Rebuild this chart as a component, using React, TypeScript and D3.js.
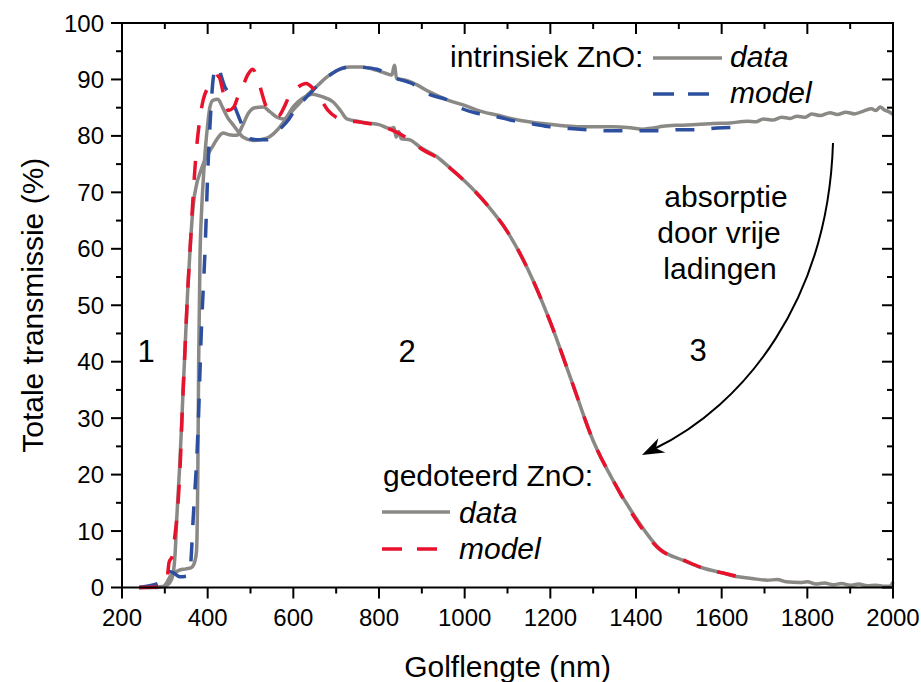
import React from "react";
import * as d3 from "d3";

type P = [number, number];

const xTicks = [200, 400, 600, 800, 1000, 1200, 1400, 1600, 1800, 2000];
const yTicks = [0, 10, 20, 30, 40, 50, 60, 70, 80, 90, 100];

const intrinsicData: P[] = [
  [240, 0], [265, 0.1], [296, 0.2], [305, 0.9], [312, 1.9], [322, 2.6], [335, 3.1], [350, 3.3], [363, 3.6],
  [370, 4.6], [374, 6.5], [377, 20], [379, 40], [382, 58], [386, 67], [390, 72.5], [395, 78], [400, 82],
  [405, 85], [412, 86.3], [424, 86.5], [435, 85], [447, 83.2], [459, 82], [470, 80.9], [482, 79.8],
  [506, 79.2], [538, 79.6], [562, 81], [578, 82.5], [592, 83.9], [612, 85.6], [632, 87.2], [655, 88.8],
  [678, 90.4], [700, 91.5], [732, 92.2], [760, 92.2], [795, 91.6], [815, 91.1], [830, 90.8], [836, 92.5],
  [841, 90.2], [860, 89.9], [879, 89.4], [920, 87.7], [959, 86.4], [1000, 85.4], [1036, 84.4], [1075, 83.7],
  [1113, 83], [1150, 82.5], [1192, 82.1], [1230, 81.8], [1269, 81.6], [1300, 81.6], [1346, 81.6],
  [1380, 81.5], [1417, 81.2], [1440, 81.4], [1463, 81.7], [1500, 81.9], [1542, 82], [1580, 82.2],
  [1620, 82.3], [1660, 82.6], [1680, 82.5], [1697, 83], [1720, 82.8], [1740, 83.3], [1760, 83.1],
  [1776, 83.5], [1795, 83.3], [1810, 83.9], [1830, 83.6], [1853, 84.1], [1870, 83.8], [1890, 84.2],
  [1910, 83.9], [1931, 84.4], [1950, 84.8], [1960, 84.5], [1970, 85.1], [1980, 84.6], [1990, 84.3], [2000, 83.8],
];

const intrinsicModel: P[] = [
  [240, 0], [265, 0.3], [290, 1], [300, 1.8], [308, 2.9], [320, 2.6], [335, 1.9], [350, 2], [358, 2.5],
  [362, 6], [366, 12], [370, 17], [374, 22], [378, 29], [385, 45], [394, 60], [401, 75], [407, 84],
  [412, 89.5], [418, 92], [425, 92.3], [432, 90.5], [440, 88.7], [448, 87.7], [464, 85], [480, 82],
  [499, 79.5], [520, 79.3], [538, 79.3], [555, 80.2], [570, 81.3], [590, 83], [605, 84.8], [620, 86],
  [645, 88], [665, 89.6], [680, 90.5], [715, 92], [740, 92.3], [755, 92.2], [795, 91.8], [833, 90.4],
  [879, 89.2], [919, 87.3], [959, 86.4], [989, 85], [1029, 84], [1075, 83.4], [1113, 82.7], [1160, 82.1],
  [1199, 81.6], [1246, 81.3], [1286, 81.1], [1333, 80.9], [1371, 80.9], [1417, 80.9], [1456, 80.9],
  [1503, 81.1], [1542, 81.1], [1589, 81.4], [1640, 81.5],
];

const dopedData: P[] = [
  [240, 0], [284, 0], [305, 0.4], [317, 1.7], [324, 6], [328, 12.5], [335, 22], [341, 32], [347, 42],
  [353, 52], [359, 60], [366, 67.5], [375, 71.7], [382, 73.4], [395, 76], [412, 78.2], [425, 79.8],
  [436, 80.5], [450, 80.2], [468, 80.1], [480, 81.6], [495, 84], [510, 85], [530, 85.1], [545, 84.3],
  [562, 83.3], [578, 83], [600, 85.2], [620, 86.6], [646, 87.4], [665, 87], [693, 86], [710, 84.5],
  [725, 83], [750, 82.6], [772, 82.3], [800, 82], [826, 81.3], [835, 81.5], [840, 79.8], [846, 80.8],
  [852, 79.5], [872, 79.3], [896, 78], [935, 76.3], [966, 74.3], [1000, 72], [1050, 68], [1100, 63],
  [1150, 56], [1200, 47], [1250, 36.5], [1300, 26], [1350, 18.5], [1400, 12.3], [1456, 6.8], [1510, 4.8],
  [1554, 3.5], [1601, 2.6], [1638, 1.9], [1670, 1.6], [1706, 1.3], [1730, 1.4], [1750, 1.0], [1783, 0.9],
  [1800, 1.0], [1820, 0.6], [1840, 0.8], [1860, 0.5], [1880, 0.7], [1900, 0.4], [1920, 0.6], [1940, 0.3],
  [1960, 0.4], [1980, 0.2], [1993, 0.2], [2000, 1.0],
];

const dopedModel: P[] = [
  [240, 0], [280, 0.1], [300, 0.8], [306, 2], [310, 4.5], [317, 5.5], [324, 9.5], [330, 14], [336, 22],
  [341, 32], [347, 42], [353, 52], [359, 60], [365, 68], [372, 76], [380, 82], [390, 86.5], [400, 88.5],
  [412, 90], [425, 90.6], [437, 87.5], [448, 84.5], [460, 85], [471, 87], [483, 89], [495, 91],
  [505, 91.8], [515, 90.5], [525, 88], [535, 85.5], [550, 84], [565, 83.5], [578, 85], [590, 87],
  [610, 88.6], [630, 89.3], [645, 88.5], [660, 87], [680, 84.6], [700, 83.3], [720, 82.8], [760, 82.4],
  [800, 81.8], [837, 80.8], [872, 79.3], [903, 77.5], [935, 76.2], [966, 74.3], [1000, 72], [1050, 68],
  [1100, 63], [1150, 56], [1200, 47], [1250, 36.5], [1300, 26], [1350, 18.5], [1400, 12], [1456, 6.7],
  [1510, 4.9], [1554, 3.5], [1601, 2.6], [1640, 1.9],
];

const GRAY = "#8b8986";
const BLUE = "#2d4f9f";
const RED = "#e8122d";
const FONT = "'Liberation Sans', Arial, sans-serif";

export default function App() {
  const W = 921, H = 682;
  const L = 122, R = 893, T = 23, B = 587.5;
  const x = d3.scaleLinear().domain([200, 2000]).range([L, R]);
  const y = d3.scaleLinear().domain([0, 100]).range([B, T]);
  const line = d3
    .line<P>()
    .x((d) => x(d[0]))
    .y((d) => y(d[1]))
    .curve(d3.curveMonotoneX);

  const xMinor = d3.range(200, 2001, 100);
  const yMinor = d3.range(0, 101, 5);
  const MAJ = 11, MIN = 6;
  const dash = "19 17";

  // arrow
  const p0: P = [833, 143];
  const p1: P = [828, 300];
  const p2: P = [745, 405];
  const p3: P = [642, 455];
  const arrowPath = d3.path();
  arrowPath.moveTo(p0[0], p0[1]);
  arrowPath.bezierCurveTo(p1[0], p1[1], p2[0], p2[1], p3[0] + 12, p3[1] - 6);
  const ang = Math.atan2(p3[1] - p2[1], p3[0] - p2[0]);
  const hl = 22, hw = 8;
  const bx = p3[0] - hl * Math.cos(ang), by = p3[1] - hl * Math.sin(ang);
  const nx = -Math.sin(ang), ny = Math.cos(ang);
  const notchX = p3[0] - hl * 0.7 * Math.cos(ang), notchY = p3[1] - hl * 0.7 * Math.sin(ang);
  const head = `M${p3[0]},${p3[1]} L${bx + nx * hw},${by + ny * hw} L${notchX},${notchY} L${bx - nx * hw},${by - ny * hw} Z`;

  return (
    <svg width={W} height={H} style={{ position: "absolute", left: 0, top: 0, background: "#fff" }} fontFamily={FONT}>
      <rect width={W} height={H} fill="#fff" />
      {/* curves */}
      <path d={line(intrinsicData) || ""} fill="none" stroke={GRAY} strokeWidth={3.5} strokeLinejoin="round" />
      <path d={line(dopedData) || ""} fill="none" stroke={GRAY} strokeWidth={3.5} strokeLinejoin="round" />
      <path d={line(intrinsicModel) || ""} fill="none" stroke={BLUE} strokeWidth={3.5} strokeDasharray={dash} />
      <path d={line(dopedModel) || ""} fill="none" stroke={RED} strokeWidth={3.5} strokeDasharray={dash} />

      {/* frame */}
      <rect x={L} y={T} width={R - L} height={B - T} fill="none" stroke="#000" strokeWidth={2} />
      {xMinor.map((v) => {
        const major = v % 200 === 0;
        const len = major ? MAJ : MIN;
        return (
          <g key={"x" + v}>
            <line x1={x(v)} x2={x(v)} y1={B} y2={B + len} stroke="#000" strokeWidth={2} />
            <line x1={x(v)} x2={x(v)} y1={T} y2={T + len} stroke="#000" strokeWidth={2} />
          </g>
        );
      })}
      {yMinor.map((v) => {
        const major = v % 10 === 0;
        const len = major ? MAJ : MIN;
        return (
          <g key={"y" + v}>
            <line x1={L - len} x2={L} y1={y(v)} y2={y(v)} stroke="#000" strokeWidth={2} />
            <line x1={R - len} x2={R} y1={y(v)} y2={y(v)} stroke="#000" strokeWidth={2} />
          </g>
        );
      })}
      {xTicks.map((v) => (
        <text key={"xt" + v} x={x(v)} y={626} textAnchor="middle" fontSize={24} fill="#000">
          {v}
        </text>
      ))}
      {yTicks.map((v) => (
        <text key={"yt" + v} x={104} y={y(v) + 8.5} textAnchor="end" fontSize={24} fill="#000">
          {v}
        </text>
      ))}
      <text x={(L + R) / 2} y={677} textAnchor="middle" fontSize={30} fill="#000">
        Golflengte (nm)
      </text>
      <text transform={`translate(43,${(T + B) / 2}) rotate(-90)`} textAnchor="middle" fontSize={30} fill="#000">
        Totale transmissie (%)
      </text>

      {/* region labels */}
      <text x={146} y={362} textAnchor="middle" fontSize={31} fill="#000">1</text>
      <text x={407} y={362} textAnchor="middle" fontSize={31} fill="#000">2</text>
      <text x={698} y={361} textAnchor="middle" fontSize={31} fill="#000">3</text>

      {/* annotation */}
      <g fontSize={30} fill="#000" textAnchor="middle">
        <text x={726} y={207}>absorptie</text>
        <text x={719} y={243}>door vrije</text>
        <text x={720} y={279}>ladingen</text>
      </g>
      <path d={arrowPath.toString()} fill="none" stroke="#000" strokeWidth={2} />
      <path d={head} fill="#000" />

      {/* legend intrinsic */}
      <text x={450} y={67} fontSize={30} fill="#000">intrinsiek ZnO:</text>
      <line x1={653} x2={722} y1={58} y2={58} stroke={GRAY} strokeWidth={3.5} />
      <text x={730} y={67} fontSize={30} fontStyle="italic" fill="#000">data</text>
      <line x1={653} x2={722} y1={94} y2={94} stroke={BLUE} strokeWidth={3.5} strokeDasharray="21 14" />
      <text x={730} y={103} fontSize={30} fontStyle="italic" fill="#000">model</text>

      {/* legend doped */}
      <text x={383} y={486} fontSize={30} fill="#000">gedoteerd ZnO:</text>
      <line x1={382} x2={450} y1={512} y2={512} stroke={GRAY} strokeWidth={3.5} />
      <text x={459} y={523} fontSize={30} fontStyle="italic" fill="#000">data</text>
      <line x1={382} x2={437} y1={549} y2={549} stroke={RED} strokeWidth={3.5} strokeDasharray="20 15" />
      <text x={459} y={559} fontSize={30} fontStyle="italic" fill="#000">model</text>
    </svg>
  );
}
